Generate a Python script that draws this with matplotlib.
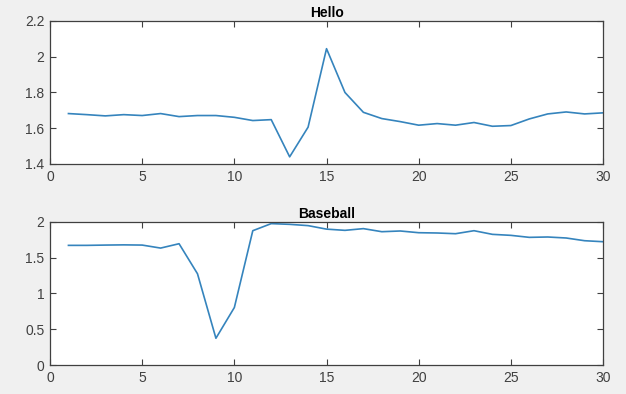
import matplotlib
matplotlib.use("Agg")
import matplotlib.pyplot as plt

x = list(range(1, 31))

hello = [1.682, 1.676, 1.669, 1.676, 1.671, 1.682, 1.665, 1.671, 1.671, 1.661,
         1.643, 1.648, 1.440, 1.606, 2.045, 1.800, 1.689, 1.654, 1.637, 1.617,
         1.626, 1.617, 1.632, 1.611, 1.615, 1.652, 1.680, 1.691, 1.680, 1.686]

baseball = [1.673, 1.673, 1.677, 1.680, 1.677, 1.635, 1.696, 1.276, 0.374, 0.804,
            1.878, 1.977, 1.967, 1.949, 1.900, 1.883, 1.907, 1.864, 1.874, 1.850,
            1.846, 1.836, 1.878, 1.827, 1.813, 1.785, 1.790, 1.776, 1.738, 1.724]

titles = ["Hello", "Baseball"]
ylims = [(1.4, 2.2), (0, 2)]
yticks = [[1.4, 1.6, 1.8, 2.0, 2.2], [0, 0.5, 1, 1.5, 2]]
yticklabels = [["1.4", "1.6", "1.8", "2", "2.2"], ["0", "0.5", "1", "1.5", "2"]]
xticks = [0, 5, 10, 15, 20, 25, 30]

plt.rcParams['font.family'] = ['Liberation Sans', 'DejaVu Sans']
grey = '#404040'

fig = plt.figure(figsize=(6.26, 3.94), dpi=100, facecolor='#f0f0f0')
positions = [[0.0799, 0.5838, 0.8834, 0.3630],
             [0.0799, 0.0736, 0.8834, 0.3630]]

for pos, data, title, ylim, yt, ytl in zip(positions, [hello, baseball], titles,
                                           ylims, yticks, yticklabels):
    ax = fig.add_axes(pos)
    ax.plot(x, data, color='#3584bd', linewidth=1.2)
    ax.set_xlim(0, 30)
    ax.set_ylim(*ylim)
    ax.set_xticks(xticks)
    ax.set_yticks(yt)
    ax.set_yticklabels(ytl)
    ax.set_title(title, fontsize=10, fontweight='bold', color='black', pad=3)
    ax.tick_params(direction='in', top=True, right=True, length=4, width=0.8,
                   labelsize=10, colors=grey, pad=4)
    for s in ax.spines.values():
        s.set_color(grey)
        s.set_linewidth(0.9)

fig.savefig("out.png", dpi=100, facecolor=fig.get_facecolor())
